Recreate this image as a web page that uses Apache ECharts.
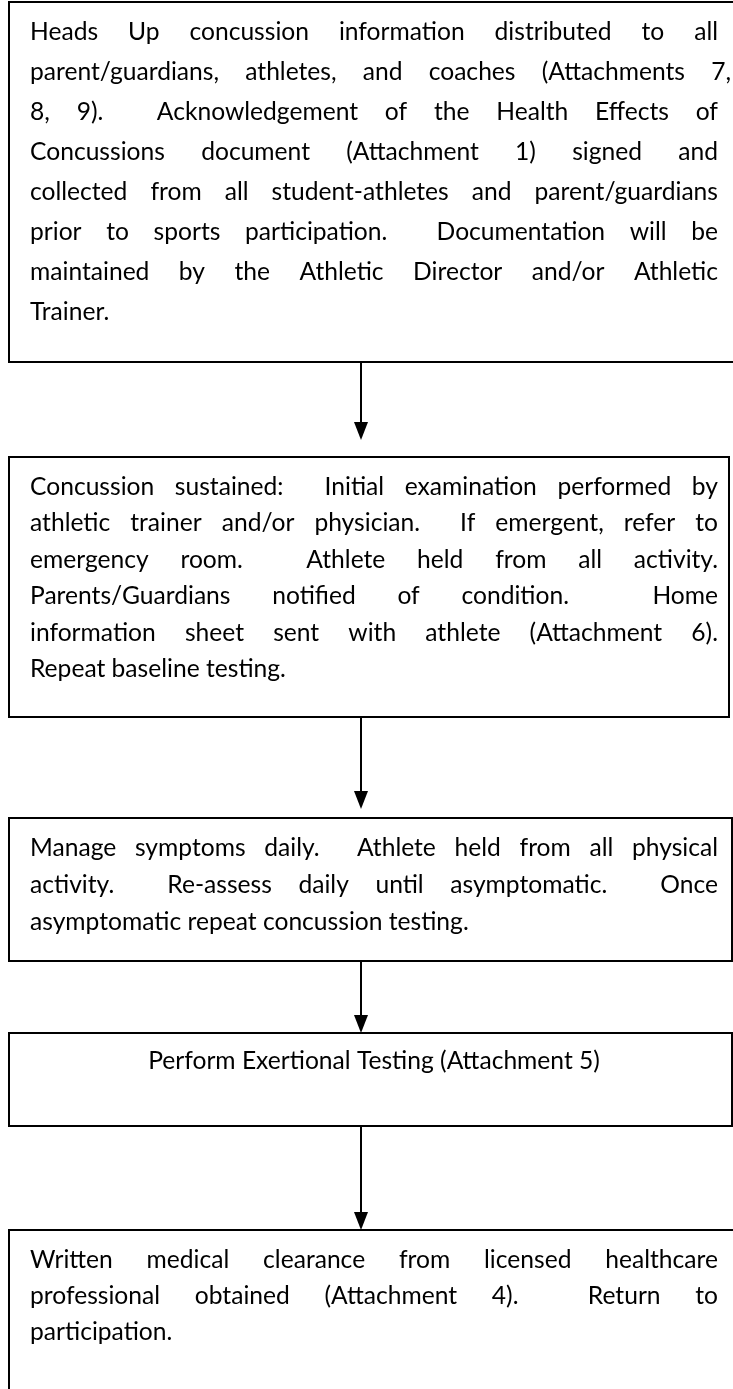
<!DOCTYPE html>
<html><head><meta charset="utf-8">
<script src="https://cdn.jsdelivr.net/npm/echarts@6/dist/echarts.min.js"></script>
<style>html,body{margin:0;padding:0;background:#fff}#main{width:733px;height:1389px}</style>
</head><body><div id="main"></div>
<script>
// ---- content (text of each flowchart step, line by line as in the reference) ----
const step1Lines = [
  "Heads Up concussion information distributed to all",
  "parent/guardians, athletes, and coaches (Attachments 7,",
  "8, 9).  Acknowledgement of the Health Effects of",
  "Concussions document (Attachment 1) signed and",
  "collected from all student-athletes and parent/guardians",
  "prior to sports participation.  Documentation will be",
  "maintained by the Athletic Director and/or Athletic",
  "Trainer."
];
const step2Lines = [
  "Concussion sustained:  Initial examination performed by",
  "athletic trainer and/or physician.  If emergent, refer to",
  "emergency room.  Athlete held from all activity.",
  "Parents/Guardians notified of condition.  Home",
  "information sheet sent with athlete (Attachment 6).",
  "Repeat baseline testing."
];
const step3Lines = [
  "Manage symptoms daily.  Athlete held from all physical",
  "activity.  Re-assess daily until asymptomatic.  Once",
  "asymptomatic repeat concussion testing."
];
const step4Lines = [
  "Perform Exertional Testing (Attachment 5)"
];
const step5Lines = [
  "Written medical clearance from licensed healthcare",
  "professional obtained (Attachment 4).  Return to",
  "participation."
];
const steps = [step1Lines, step2Lines, step3Lines, step4Lines, step5Lines];
const stepAlign = ["justify", "justify", "justify", "center", "justify"];

// ---- layout / style (pixel units of the hidden axes) ----
const LAYOUT = {
  boxLeft: 9,
  boxRight: [736, 729, 732, 732, 736],
  boxTop: [2, 457, 818, 1033, 1230],
  boxBottom: [362, 717, 961, 1126, 1400],
  arrowEnd: [440, 809, 1033, 1230],
  firstLine: [30, 30, 30, 28, 30],
  lineGap: [40, 36.5, 37, 37, 36],
  textLeft: 30, textRight: 718,
  lineRight: { "0-1": 731 },
  arrowX: 361, headW: 14, headH: 18
};
const FAMILY = "Lato, 'Open Sans', sans-serif";
const ctx = document.createElement("canvas").getContext("2d");
function measure(t, fs) { ctx.font = fs + "px " + FAMILY; return ctx.measureText(t).width; }
const FS = 26 * 452 / measure(step4Lines[0], 26);
const FONT = FS.toFixed(2) + "px " + FAMILY;

const chart = echarts.init(document.getElementById("main"), null, { renderer: "canvas" });

function txt(t, x, y, align) {
  return { type: "text", x: x, y: y,
    style: { text: t, font: FONT, fill: "#000", align: align, verticalAlign: "middle" } };
}

function renderStep(params, api) {
  const i = api.value(0);
  const lines = steps[i];
  const children = [];
  const p0 = api.coord([LAYOUT.boxLeft, LAYOUT.boxTop[i]]);
  const p1 = api.coord([LAYOUT.boxRight[i], LAYOUT.boxBottom[i]]);
  children.push({
    type: "rect",
    shape: { x: p0[0], y: p0[1], width: p1[0] - p0[0], height: p1[1] - p0[1] },
    style: { fill: "#fff", stroke: "#000", lineWidth: 2 }
  });
  const L = api.coord([LAYOUT.textLeft, 0])[0];
  lines.forEach((line, k) => {
    const R = api.coord([LAYOUT.lineRight[i + "-" + k] || LAYOUT.textRight, 0])[0];
    const y = api.coord([0, LAYOUT.boxTop[i] + LAYOUT.firstLine[i] + k * LAYOUT.lineGap[i]])[1];
    const last = k === lines.length - 1;
    if (stepAlign[i] === "center") {
      children.push(txt(line, (L + R) / 2, y, "center"));
    } else if (last) {
      children.push(txt(line, L, y, "left"));
    } else {
      const toks = line.split(" ");
      const sw = measure(" ", FS);
      const widths = toks.map(t => t ? measure(t, FS) : 0);
      const nat = widths.reduce((a, b) => a + b, 0) + (toks.length - 1) * sw;
      const extra = (R - L - nat) / (toks.length - 1);
      let x = L;
      toks.forEach((t, j) => {
        if (t) children.push(txt(t, x, y, "left"));
        x += widths[j] + sw + extra;
      });
    }
  });
  // arrow to next step
  if (i < steps.length - 1) {
    const a = api.coord([LAYOUT.arrowX, LAYOUT.boxBottom[i]]);
    const b = api.coord([LAYOUT.arrowX, LAYOUT.arrowEnd[i]]);
    children.push({ type: "line", shape: { x1: a[0], y1: a[1], x2: b[0], y2: b[1] - LAYOUT.headH + 2 },
      style: { stroke: "#000", lineWidth: 2 } });
    children.push({ type: "polygon",
      shape: { points: [[b[0] - LAYOUT.headW / 2, b[1] - LAYOUT.headH], [b[0] + LAYOUT.headW / 2, b[1] - LAYOUT.headH], [b[0], b[1]]] },
      style: { fill: "#000" } });
  }
  return { type: "group", children: children };
}

chart.setOption({
  animation: false,
  backgroundColor: "#fff",
  grid: { left: 0, right: 0, top: 0, bottom: 0 },
  xAxis: { type: "value", min: 0, max: 733, show: false },
  yAxis: { type: "value", min: 0, max: 1389, inverse: true, show: false },
  series: [{
    type: "custom",
    coordinateSystem: "cartesian2d",
    clip: false,
    encode: { x: 0, y: 1 },
    data: steps.map((s, i) => [i, i]),
    renderItem: renderStep
  }]
});
</script></body></html>
